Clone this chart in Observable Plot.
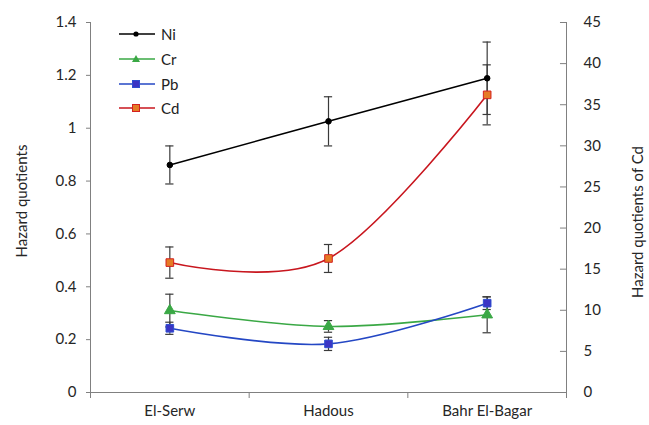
<!DOCTYPE html>
<html><head><meta charset="utf-8">
<script src="https://cdn.jsdelivr.net/npm/d3@7"></script>
<script src="https://cdn.jsdelivr.net/npm/@observablehq/plot@0.6"></script>
<style>
body{margin:0;background:#fff;font-family:Lato,"Open Sans",sans-serif}
#wrap{position:relative;width:649px;height:425px;overflow:hidden}
#legend{position:absolute;left:118px;top:22px;font:15px Lato,sans-serif;color:#222}
#legend .row{height:24.7px;display:flex;align-items:center}
#legend svg{margin-right:5px}
.ytitle{position:absolute;font:15px Lato,sans-serif;line-height:16px;color:#262626;white-space:nowrap;transform:translate(-50%,-50%) rotate(-90deg)}
</style>
</head><body><div id="wrap"><div id="legend"></div>
<div class="ytitle" id="ltitle" style="left:21px;top:201px"></div>
<div class="ytitle" id="rtitle" style="left:637px;top:222px"></div>
</div>
<script>
// ---- data ----
const sites = ["El-Serw", "Hadous", "Bahr El-Bagar"];
const niValues = [0.861, 1.026, 1.189];
const niErrors = [0.072, 0.093, 0.137];
const crValues = [0.310, 0.250, 0.294];
const crErrors = [0.062, 0.022, 0.068];
const pbValues = [0.243, 0.184, 0.338];
const pbErrors = [0.023, 0.025, 0.024];
const cdValues = [15.8, 16.3, 36.2];   // right axis
const cdErrors = [1.9, 1.7, 3.65];
const leftTicks = [0, 0.2, 0.4, 0.6, 0.8, 1, 1.2, 1.4];
const rightTicks = [0, 5, 10, 15, 20, 25, 30, 35, 40, 45];
const seriesNames = ["Ni", "Cr", "Pb", "Cd"];
const leftTitle = "Hazard quotients";
const rightTitle = "Hazard quotients of Cd";

// ---- styling ----
const LEFT_MAX = 1.4, RIGHT_MAX = 45;
const toLeft = v => v * LEFT_MAX / RIGHT_MAX;
const style = {
  Ni: {line: "#000000", fill: "#000000", stroke: "#000000", symbol: "circle", r: 2.8},
  Cr: {line: "#3aa845", fill: "#3aa845", stroke: "#3aa845", symbol: "triangle", r: 4},
  Pb: {line: "#2447c4", fill: "#3b35c4", stroke: "#2f4fd0", symbol: "square", r: 4.3},
  Cd: {line: "#c8161e", fill: "#e57b25", stroke: "#d42020", symbol: "square", r: 4.3}
};
const raw = {Ni: [niValues, niErrors, false], Cr: [crValues, crErrors, false], Pb: [pbValues, pbErrors, false], Cd: [cdValues, cdErrors, true]};

const rows = [];
for (const name of seriesNames) {
  const [vals, errs, right] = raw[name];
  vals.forEach((v, i) => {
    const f = right ? toLeft : (d => d);
    rows.push({name, x: i + 0.5, y: f(v), lo: f(v - errs[i]), hi: f(v + errs[i])});
  });
}
const cap = 0.026;
const axisColor = "#808080";
const textColor = "#262626";

const marks = [
  // x axis: boundary ticks + line
  Plot.axisX({ticks: [0, 1, 2, 3], tickSize: 6, tickFormat: () => "", stroke: axisColor, label: null}),
  Plot.ruleY([0], {stroke: axisColor}),
  Plot.axisX({ticks: [0.5, 1.5, 2.5], tickSize: 0, tickPadding: 13, tickFormat: v => sites[Math.floor(v)], fill: textColor, fontSize: 15, label: null}),
  // left axis
  Plot.axisY({ticks: leftTicks, tickSize: 4, tickPadding: 10, tickFormat: v => String(+v.toFixed(1)), stroke: axisColor, fill: textColor, fontSize: 15, label: null}),
  Plot.ruleX([0], {stroke: axisColor}),
  // right axis
  Plot.axisY({anchor: "right", ticks: rightTicks.map(toLeft), tickSize: 0, tickPadding: 17,
    tickFormat: v => String(Math.round(v * RIGHT_MAX / LEFT_MAX)), fill: textColor, fontSize: 15, label: null}),
  Plot.ruleX([3], {stroke: axisColor}),
  Plot.ruleY(rightTicks.map(toLeft), {x1: 3 - 0.038, x2: 3, stroke: axisColor})
];

for (const name of seriesNames) {
  const s = style[name];
  const data = rows.filter(d => d.name === name);
  marks.push(Plot.line(data, {x: "x", y: "y", stroke: s.line, strokeWidth: 1.6, curve: "cardinal"}));
}
const errColor = "#3a3a3a";
marks.push(Plot.ruleX(rows, {x: "x", y1: "lo", y2: "hi", stroke: errColor, strokeWidth: 1.2}));
marks.push(Plot.ruleY(rows, {y: "lo", x1: d => d.x - cap, x2: d => d.x + cap, stroke: errColor, strokeWidth: 1.2}));
marks.push(Plot.ruleY(rows, {y: "hi", x1: d => d.x - cap, x2: d => d.x + cap, stroke: errColor, strokeWidth: 1.2}));
for (const name of seriesNames) {
  const s = style[name];
  const data = rows.filter(d => d.name === name);
  marks.push(Plot.dot(data, {x: "x", y: "y", symbol: s.symbol, r: s.r, fill: s.fill, stroke: s.stroke, strokeWidth: 1}));
}

const chart = Plot.plot({
  width: 649, height: 425,
  marginLeft: 90, marginRight: 83, marginTop: 22, marginBottom: 33,
  style: {fontFamily: "Lato, 'Open Sans', sans-serif", background: "#fff"},
  x: {type: "linear", domain: [0, 3], axis: null},
  y: {domain: [0, LEFT_MAX], axis: null},
  marks
});
document.getElementById("wrap").prepend(chart);
document.getElementById("ltitle").textContent = leftTitle;
document.getElementById("rtitle").textContent = rightTitle;

// legend
const legend = document.getElementById("legend");
for (const name of seriesNames) {
  const s = style[name];
  const row = document.createElement("div");
  row.className = "row";
  const sym = s.symbol === "circle" ? `<circle cx="18" cy="6" r="2.6" fill="${s.fill}"/>`
    : s.symbol === "triangle" ? `<path d="M18,2 L22,9 L14,9 Z" fill="${s.fill}"/>`
    : `<rect x="14.5" y="2.5" width="7" height="7" fill="${s.fill}" stroke="${s.stroke}"/>`;
  row.innerHTML = `<svg width="38" height="12"><line x1="1" x2="37" y1="6" y2="6" stroke="${s.line}" stroke-width="1.6"/>${sym}</svg><span>${name}</span>`;
  legend.appendChild(row);
}
</script>
</body></html>
